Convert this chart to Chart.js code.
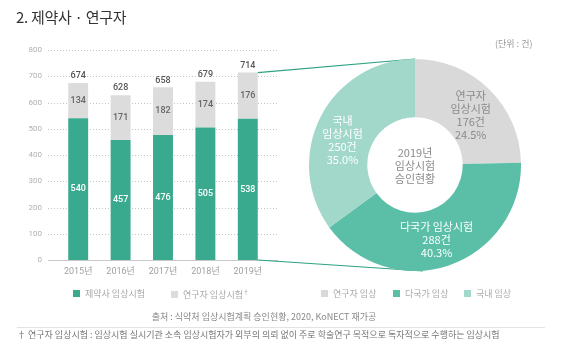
<!DOCTYPE html>
<html>
<head>
<meta charset="utf-8">
<script src="https://cdn.jsdelivr.net/npm/chart.js@4"></script>
<style>
  body { margin: 0; background: #fff; font-family: "Noto Sans CJK KR", "Noto Sans", sans-serif; }
  #wrap { position: relative; width: 561px; height: 353px; overflow: hidden; }
  #barChart { position: absolute; left: 0; top: 0; }
  #pieChart { position: absolute; left: 309px; top: 59px; }
  .txt { position: absolute; white-space: nowrap; }
  .title { left: 16px; top: 6px; font-size: 15px; color: #333; letter-spacing: -0.3px; }
  .unit { left: 495px; top: 37px; font-size: 9px; color: #999; }
  .legend { top: 287px; font-size: 9px; color: #aaa; }
  .legend i { display: inline-block; width: 7px; height: 7px; margin-right: 5px; vertical-align: 0px; }
  .source { left: 0; width: 528px; text-align: center; top: 310px; font-size: 9px; color: #888; }
  .rule { position: absolute; left: 17px; width: 528px; top: 327px; border-top: 1px solid #e3e3e3; }
  .foot { left: 17px; top: 328px; font-size: 9px; color: #777; }
</style>
</head>
<body>
<div id="wrap">
  <canvas id="barChart" width="561" height="353"></canvas>
  <canvas id="pieChart" width="212" height="212"></canvas>
  <div class="txt title">2. 제약사 · 연구자</div>
  <div class="txt unit">(단위 : 건)</div>
  <div class="txt legend" style="left:73px"><i style="background:#3aaa8f"></i>제약사 임상시험</div>
  <div class="txt legend" style="left:171px"><i style="background:#dcdcdc"></i>연구자 임상시험<sup style="font-size:6px">†</sup></div>
  <div class="txt legend" style="left:321px"><i style="background:#d9d9da"></i>연구자 임상</div>
  <div class="txt legend" style="left:393px"><i style="background:#5bbfa8"></i>다국가 임상</div>
  <div class="txt legend" style="left:464px"><i style="background:#a2d8ca"></i>국내 임상</div>
  <div class="txt source">출처 : 식약처 임상시험계획 승인현황, 2020, KoNECT 재가공</div>
  <div class="rule"></div>
  <div class="txt foot">† 연구자 임상시험 : 임상시험 실시기관 소속 임상시험자가 외부의 의뢰 없이 주로 학술연구 목적으로 독자적으로 수행하는 임상시험</div>
</div>
<script>
const years = ['2015년', '2016년', '2017년', '2018년', '2019년'];
const sponsorTrials = [540, 457, 476, 505, 538];
const investigatorTrials = [134, 171, 182, 174, 176];
const totals = [674, 628, 658, 679, 714];
const yTicks = [0, 100, 200, 300, 400, 500, 600, 700, 800];

const pieLabels = ['연구자 임상', '다국가 임상', '국내 임상'];
const pieValues = [176, 288, 250];
const piePercents = ['24.5%', '40.3%', '35.0%'];
const pieTextLines = [['연구자', '임상시험'], ['다국가 임상시험'], ['국내', '임상시험']];
const pieCenterText = ['2019년', '임상시험', '승인현황'];

const teal = '#3aaa8f';
const lightGray = '#dcdcdc';
const pieColors = ['#d9d9da', '#5bbfa8', '#a2d8ca'];
const pieTextColors = ['#8a8a8a', '#ffffff', '#ffffff'];
const numFont = '"Roboto", "Noto Sans CJK KR", sans-serif';
const krFont = '"Noto Sans CJK KR", sans-serif';

// 도넛 라벨
const pieLabelPlugin = {
  id: 'pieLabels',
  afterDatasetsDraw(chart) {
    const ctx = chart.ctx;
    const arcs = chart.getDatasetMeta(0).data;
    ctx.save();
    ctx.textAlign = 'center';
    ctx.textBaseline = 'middle';
    ctx.font = '11px ' + krFont;
    arcs.forEach((arc, i) => {
      const pos = arc.tooltipPosition();
      const lines = pieTextLines[i].concat([pieValues[i] + '건', piePercents[i]]);
      const lh = 13;
      const nudge = [[2, 5], [-3, 2], [-4, 10]][i];
      const startY = pos.y + nudge[1] - (lines.length - 1) * lh / 2;
      ctx.fillStyle = pieTextColors[i];
      lines.forEach((l, k) => ctx.fillText(l, pos.x + nudge[0], startY + k * lh));
    });
    const c = arcs[0];
    ctx.fillStyle = '#8a8a8a';
    pieCenterText.forEach((l, k) => ctx.fillText(l, c.x, c.y - 12 + k * 13));
    ctx.restore();
  }
};

const pieChart = new Chart(document.getElementById('pieChart'), {
  type: 'doughnut',
  data: {
    labels: pieLabels,
    datasets: [{ data: pieValues, backgroundColor: pieColors, borderWidth: 0 }]
  },
  options: {
    responsive: false,
    animation: false,
    cutout: '45%',
    layout: { padding: 0 },
    plugins: { legend: { display: false }, tooltip: { enabled: false } }
  },
  plugins: [pieLabelPlugin]
});

// 점선 그리드, 값 라벨, 연결선
const barExtras = {
  id: 'barExtras',
  beforeDatasetsDraw(chart) {
    const ctx = chart.ctx;
    const y = chart.scales.y;
    ctx.save();
    yTicks.forEach(v => {
      const py = Math.round(y.getPixelForValue(v)) + 0.5;
      ctx.beginPath();
      if (v === 0) {
        ctx.setLineDash([]);
        ctx.strokeStyle = '#c8c8c8';
      } else {
        ctx.setLineDash([1, 2]);
        ctx.strokeStyle = '#c4c4c4';
      }
      ctx.moveTo(48, py);
      ctx.lineTo(278, py);
      ctx.lineWidth = 1;
      ctx.stroke();
    });
    ctx.restore();
  },
  afterDatasetsDraw(chart) {
    const ctx = chart.ctx;
    const m0 = chart.getDatasetMeta(0).data;
    const m1 = chart.getDatasetMeta(1).data;
    ctx.save();
    ctx.textAlign = 'center';
    ctx.textBaseline = 'middle';
    ctx.font = '500 9px ' + numFont;
    m0.forEach((bar, i) => {
      ctx.fillStyle = '#ffffff';
      ctx.fillText(sponsorTrials[i], bar.x, (bar.y + bar.base) / 2);
      const top = m1[i];
      ctx.fillStyle = '#666666';
      ctx.fillText(investigatorTrials[i], top.x, (top.y + top.base) / 2);
      ctx.fillStyle = '#555555';
      ctx.fillText(totals[i], top.x, top.y - 7);
    });

    // 2019 막대 -> 도넛 연결선
    const last = m1[m1.length - 1];
    const arc = pieChart.getDatasetMeta(0).data[0];
    const px = 309, py = 59;
    const right = last.x + last.width / 2;
    ctx.strokeStyle = '#2ea283';
    ctx.lineWidth = 1.2;
    ctx.beginPath();
    ctx.moveTo(right, last.y);
    ctx.lineTo(px + arc.x, py + arc.y - arc.outerRadius);
    ctx.moveTo(right, m0[m0.length - 1].base);
    ctx.lineTo(px + arc.x + 8, py + arc.y + arc.outerRadius);
    ctx.stroke();
    ctx.restore();
  }
};

new Chart(document.getElementById('barChart'), {
  type: 'bar',
  data: {
    labels: years,
    datasets: [
      { label: '제약사 임상시험', data: sponsorTrials, backgroundColor: teal, borderWidth: 0 },
      { label: '연구자 임상시험', data: investigatorTrials, backgroundColor: lightGray, borderWidth: 0 }
    ]
  },
  options: {
    responsive: false,
    animation: false,
    layout: { padding: { top: 50, left: 0, right: 292, bottom: 68 } },
    datasets: { bar: { barPercentage: 0.47, categoryPercentage: 1 } },
    scales: {
      x: {
        stacked: true,
        grid: { display: false, drawTicks: false },
        border: { display: false },
        ticks: { color: '#a0a0a0', font: { size: 9, family: numFont }, padding: 6 },
        afterFit(s) { s.height = 25; }
      },
      y: {
        stacked: true,
        min: 0,
        max: 800,
        afterBuildTicks(s) { s.ticks = yTicks.map(v => ({ value: v })); },
        grid: { display: false, drawTicks: false },
        border: { display: false },
        ticks: { color: '#b0b0b0', font: { size: 8, family: numFont }, padding: 15 },
        afterFit(s) { s.width = 57; }
      }
    },
    plugins: { legend: { display: false }, tooltip: { enabled: false } }
  },
  plugins: [barExtras]
});
</script>
</body>
</html>
